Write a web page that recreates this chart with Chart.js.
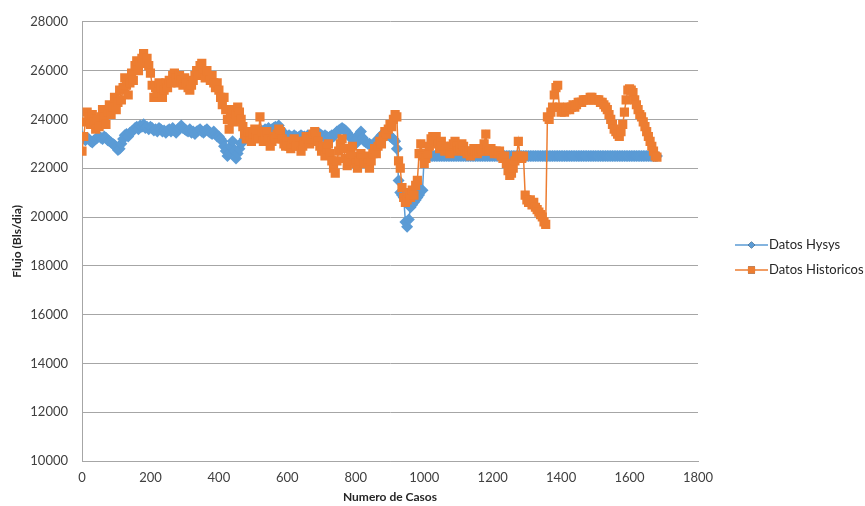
<!DOCTYPE html>
<html>
<head>
<meta charset="utf-8">
<title>Flujo - Datos Hysys vs Datos Historicos</title>
<script src="https://cdn.jsdelivr.net/npm/chart.js@4.4.1/dist/chart.umd.min.js"></script>
<style>
  html, body { margin: 0; padding: 0; background: #ffffff; }
  #wrap { width: 865px; height: 506px; }
</style>
</head>
<body>
<div id="wrap"><canvas id="chart" width="865" height="506"></canvas></div>
<script>
// Case numbers (every 5th case, 0 to 1680)
const cases = [
  0, 5, 10, 15, 20, 25, 30, 35, 40, 45,
  50, 55, 60, 65, 70, 75, 80, 85, 90, 95,
  100, 105, 110, 115, 120, 125, 130, 135, 140, 145,
  150, 155, 160, 165, 170, 175, 180, 185, 190, 195,
  200, 205, 210, 215, 220, 225, 230, 235, 240, 245,
  250, 255, 260, 265, 270, 275, 280, 285, 290, 295,
  300, 305, 310, 315, 320, 325, 330, 335, 340, 345,
  350, 355, 360, 365, 370, 375, 380, 385, 390, 395,
  400, 405, 410, 415, 420, 425, 430, 435, 440, 445,
  450, 455, 460, 465, 470, 475, 480, 485, 490, 495,
  500, 505, 510, 515, 520, 525, 530, 535, 540, 545,
  550, 555, 560, 565, 570, 575, 580, 585, 590, 595,
  600, 605, 610, 615, 620, 625, 630, 635, 640, 645,
  650, 655, 660, 665, 670, 675, 680, 685, 690, 695,
  700, 705, 710, 715, 720, 725, 730, 735, 740, 745,
  750, 755, 760, 765, 770, 775, 780, 785, 790, 795,
  800, 805, 810, 815, 820, 825, 830, 835, 840, 845,
  850, 855, 860, 865, 870, 875, 880, 885, 890, 895,
  900, 905, 910, 915, 920, 925, 930, 935, 940, 945,
  950, 955, 960, 965, 970, 975, 980, 985, 990, 995,
  1000, 1005, 1010, 1015, 1020, 1025, 1030, 1035, 1040, 1045,
  1050, 1055, 1060, 1065, 1070, 1075, 1080, 1085, 1090, 1095,
  1100, 1105, 1110, 1115, 1120, 1125, 1130, 1135, 1140, 1145,
  1150, 1155, 1160, 1165, 1170, 1175, 1180, 1185, 1190, 1195,
  1200, 1205, 1210, 1215, 1220, 1225, 1230, 1235, 1240, 1245,
  1250, 1255, 1260, 1265, 1270, 1275, 1280, 1285, 1290, 1295,
  1300, 1305, 1310, 1315, 1320, 1325, 1330, 1335, 1340, 1345,
  1350, 1355, 1360, 1365, 1370, 1375, 1380, 1385, 1390, 1395,
  1400, 1405, 1410, 1415, 1420, 1425, 1430, 1435, 1440, 1445,
  1450, 1455, 1460, 1465, 1470, 1475, 1480, 1485, 1490, 1495,
  1500, 1505, 1510, 1515, 1520, 1525, 1530, 1535, 1540, 1545,
  1550, 1555, 1560, 1565, 1570, 1575, 1580, 1585, 1590, 1595,
  1600, 1605, 1610, 1615, 1620, 1625, 1630, 1635, 1640, 1645,
  1650, 1655, 1660, 1665, 1670, 1675, 1680
];

// Simulated flow, Hysys model (Bls/dia)
const datosHysys = [
  23300, 23250, 23150, 23250, 23200, 23100, 23050, 23150, 23200, 23250,
  23300, 23250, 23200, 23300, 23250, 23150, 23100, 23050, 23000, 22950,
  22850, 22750, 22800, 23000, 23200, 23350, 23400, 23300, 23450, 23500,
  23550, 23650, 23700, 23600, 23750, 23700, 23800, 23650, 23700, 23600,
  23700, 23650, 23550, 23600, 23500, 23650, 23600, 23500, 23550, 23450,
  23550, 23600, 23500, 23650, 23550, 23450, 23600, 23650, 23750, 23650,
  23600, 23550, 23500, 23600, 23450, 23500, 23400, 23500, 23550, 23600,
  23500, 23450, 23550, 23600, 23500, 23450, 23400, 23500, 23400, 23300,
  23300, 23200, 23100, 22900, 22700, 22500, 22600, 22900, 23100, 22700,
  22400, 22600, 22800, 23000, 23100, 23200, 23300, 23200, 23250, 23350,
  23400, 23450, 23500, 23400, 23450, 23550, 23500, 23600, 23550, 23650,
  23550, 23600, 23650, 23700, 23650, 23750, 23600, 23500, 23400, 23350,
  23300, 23350, 23300, 23250, 23350, 23300, 23250, 23300, 23350, 23300,
  23300, 23250, 23350, 23300, 23250, 23300, 23350, 23400, 23450, 23400,
  23350, 23300, 23350, 23300, 23250, 23300, 23350, 23300, 23400, 23500,
  23550, 23600, 23650, 23600, 23550, 23450, 23350, 23250, 23200, 23100,
  23000, 23200, 23400, 23500, 23250, 23100, 23050, 23000, 23000, 22950,
  22900, 23000, 23100, 23200, 23250, 23350, 23400, 23300, 23350, 23400,
  23300, 23250, 23200, 23100, 22800, 21500, 21000, 20900, 20800, 19800,
  19600, 19900, 20400, 20500, 20600, 20700, 20800, 20900, 21100, 21100,
  22500, 22500, 22500, 22500, 22500, 22500, 22500, 22500, 22500, 22500,
  22500, 22500, 22500, 22500, 22500, 22500, 22500, 22500, 22500, 22500,
  22500, 22500, 22500, 22500, 22500, 22500, 22500, 22500, 22500, 22500,
  22500, 22500, 22500, 22500, 22500, 22500, 22500, 22500, 22500, 22500,
  22500, 22500, 22500, 22500, 22500, 22500, 22500, 22500, 22500, 22500,
  22500, 22500, 22500, 22500, 22500, 22500, 22500, 22500, 22500, 22500,
  22500, 22500, 22500, 22500, 22500, 22500, 22500, 22500, 22500, 22500,
  22500, 22500, 22500, 22500, 22500, 22500, 22500, 22500, 22500, 22500,
  22500, 22500, 22500, 22500, 22500, 22500, 22500, 22500, 22500, 22500,
  22500, 22500, 22500, 22500, 22500, 22500, 22500, 22500, 22500, 22500,
  22500, 22500, 22500, 22500, 22500, 22500, 22500, 22500, 22500, 22500,
  22500, 22500, 22500, 22500, 22500, 22500, 22500, 22500, 22500, 22500,
  22500, 22500, 22500, 22500, 22500, 22500, 22500, 22500, 22500, 22500,
  22500, 22500, 22500, 22500, 22500, 22500, 22500
];

// Measured flow, historical records (Bls/dia)
const datosHistoricos = [
  22700, 23300, 23900, 24300, 24100, 23800, 24200, 23900, 23600, 24000,
  23700, 24100, 24400, 24100, 23800, 24300, 24600, 24200, 24500, 24900,
  24400, 24700, 25200, 24800, 25300, 25700, 25400, 25000, 25500, 25900,
  25600, 26200, 26400, 26000, 26300, 26500, 26700, 26300, 26500, 26200,
  25900, 25400, 24900, 25300, 25100, 25500, 25300, 24900, 25200, 25500,
  25300, 25600, 25500, 25800, 25900, 25700, 25500, 25800, 25600, 25400,
  25700, 25500, 25300, 25200, 25400, 25600, 25800, 26000, 25800, 26200,
  26300, 25900, 25700, 26000, 25800, 25600, 25800, 25500, 25300, 25500,
  25200, 24900, 24600, 24900, 24400, 24000, 23600, 24100, 24400, 23900,
  24200, 24500, 24300, 24000, 23700, 23400, 23200, 23500, 23300, 23100,
  23400, 23600, 23300, 23200, 24100, 23500, 23100, 23300, 23500, 23200,
  22900, 23100, 23300, 23200, 23400, 23600, 23500, 23200, 23000, 22900,
  23100, 22900, 22800, 23000, 23200, 22900, 23100, 22900, 22700, 22900,
  23100, 23300, 23200, 23000, 23200, 23400, 23500, 23300, 23100, 22900,
  22700, 22900, 22500, 22800, 23000, 22600, 22300, 22000, 21800, 22300,
  22700, 23000, 23200, 22800, 22400, 22100, 22300, 22600, 22900, 22500,
  22200, 22000, 22300, 22600, 22400, 22200, 22500, 22200, 22000, 22300,
  22600, 22800, 22600, 22900, 23100, 23000, 23300, 23500, 23400, 23600,
  23800, 23700, 24000, 24200, 24100, 22300, 22000, 21200, 20800, 20600,
  20700, 21000, 20800, 21100, 20900, 21300, 21500, 22600, 23000, 22500,
  22200, 22400, 22600, 22900, 23200, 23300, 23100, 23300, 23000, 22800,
  23100, 22900, 22700, 22900, 22800, 22600, 22900, 23000, 23100, 22900,
  22700, 22800, 23000, 22900, 22700, 22600, 22700, 22500, 22700, 22800,
  22700, 22600, 22700, 22800, 22700, 23000, 23400, 22800, 22700, 22800,
  22700, 22600, 22700, 22600, 22700, 22500, 22400, 22500, 22200, 21900,
  21700, 21800, 22000, 22300, 22500, 23100, 22500, 22400, 22500, 20900,
  20700, 20600, 20700, 20500, 20600, 20400, 20300, 20200, 20100, 20000,
  19800, 19700, 24100, 24000, 24300, 24500, 25000, 25300, 25400, 24500,
  24300, 24400, 24300, 24400, 24500, 24400, 24500, 24600, 24500, 24600,
  24700, 24700, 24700, 24800, 24800, 24800, 24800, 24900, 24900, 24800,
  24800, 24800, 24800, 24700, 24700, 24600, 24500, 24400, 24200, 24000,
  23800, 23600, 23500, 23400, 23300, 23500, 23800, 24300, 24800, 25200,
  25250, 25200, 25100, 24800, 24600, 24400, 24200, 24100, 23900, 23700,
  23500, 23300, 23100, 22900, 22700, 22500, 22450
];

const yTicks = [10000, 12000, 14000, 16000, 18000, 20000, 22000, 24000, 26000, 28000];
const xTicks = [0, 200, 400, 600, 800, 1000, 1200, 1400, 1600, 1800];

const BLUE = '#5B9BD5';
const ORANGE = '#ED7D31';
const GRID = '#a6a6a6';
const FONT = 'Lato, "Open Sans", sans-serif';

const toPoints = (xs, ys) => xs.map((x, i) => ({ x: x, y: ys[i] }));

// Legend at the right: short line with the series marker, then the name
const sideLegend = {
  id: 'sideLegend',
  afterDraw(chart) {
    const ctx = chart.ctx;
    const items = [
      { ds: chart.data.datasets[0], y: 245 },
      { ds: chart.data.datasets[1], y: 270 }
    ];
    ctx.save();
    items.forEach(it => {
      const ds = it.ds;
      ctx.strokeStyle = ds.borderColor;
      ctx.lineWidth = 1.5;
      ctx.beginPath();
      ctx.moveTo(735, it.y);
      ctx.lineTo(768, it.y);
      ctx.stroke();
      Chart.helpers.drawPoint(ctx, {
        pointStyle: ds.pointStyle,
        radius: ds.pointStyle === 'rect' ? 5 : 3.5,
        rotation: 0,
        borderWidth: 0
      }, 751.5, it.y);
      ctx.fillStyle = ds.pointBackgroundColor;
      ctx.fill();
      ctx.fillStyle = '#262626';
      ctx.font = '13px ' + FONT;
      ctx.textAlign = 'left';
      ctx.textBaseline = 'middle';
      ctx.fillText(ds.label, 769, it.y);
    });
    ctx.restore();
  }
};

new Chart(document.getElementById('chart'), {
  type: 'line',
  data: {
    datasets: [
      {
        label: 'Datos Hysys',
        data: toPoints(cases, datosHysys),
        borderColor: BLUE,
        backgroundColor: BLUE,
        pointBackgroundColor: BLUE,
        pointBorderColor: BLUE,
        pointBorderWidth: 0,
        pointStyle: 'rectRot',
        pointRadius: 6,
        borderWidth: 1.5,
        tension: 0,
        order: 1
      },
      {
        label: 'Datos Historicos',
        data: toPoints(cases, datosHistoricos),
        borderColor: ORANGE,
        backgroundColor: ORANGE,
        pointBackgroundColor: ORANGE,
        pointBorderColor: ORANGE,
        pointBorderWidth: 0,
        pointStyle: 'rect',
        pointRadius: 6.5,
        borderWidth: 1.5,
        tension: 0,
        order: 0
      }
    ]
  },
  options: {
    responsive: false,
    animation: false,
    layout: { padding: { top: 18, right: 167, left: 0, bottom: 0 } },
    plugins: {
      legend: { display: false },
      tooltip: { enabled: false }
    },
    scales: {
      x: {
        type: 'linear',
        min: 0,
        max: 1800,
        afterBuildTicks: scale => { scale.ticks = xTicks.map(v => ({ value: v })); },
        afterFit: scale => { scale.height = 45; },
        grid: { display: false, drawTicks: false },
        border: { display: true, color: GRID, width: 1 },
        ticks: {
          color: '#404040',
          font: { family: FONT, size: 13 },
          padding: 9,
          maxRotation: 0,
          callback: v => String(v)
        },
        title: {
          display: true,
          text: 'Numero de Casos',
          color: '#262626',
          font: { family: FONT, size: 12, weight: 'bold' },
          padding: { top: 0, bottom: 2 }
        }
      },
      y: {
        min: 10000,
        max: 28000,
        afterBuildTicks: scale => { scale.ticks = yTicks.map(v => ({ value: v })); },
        afterFit: scale => { scale.width = 82; },
        grid: { color: GRID, lineWidth: 1, drawTicks: false },
        border: { display: true, color: GRID, width: 1 },
        ticks: {
          color: '#404040',
          font: { family: FONT, size: 13 },
          padding: 14,
          callback: v => String(v)
        },
        title: {
          display: true,
          text: 'Flujo (Bls/dia)',
          color: '#262626',
          font: { family: FONT, size: 12, weight: 'bold' },
          padding: { top: 10, bottom: 0 }
        }
      }
    }
  },
  plugins: [sideLegend]
});
</script>
</body>
</html>
